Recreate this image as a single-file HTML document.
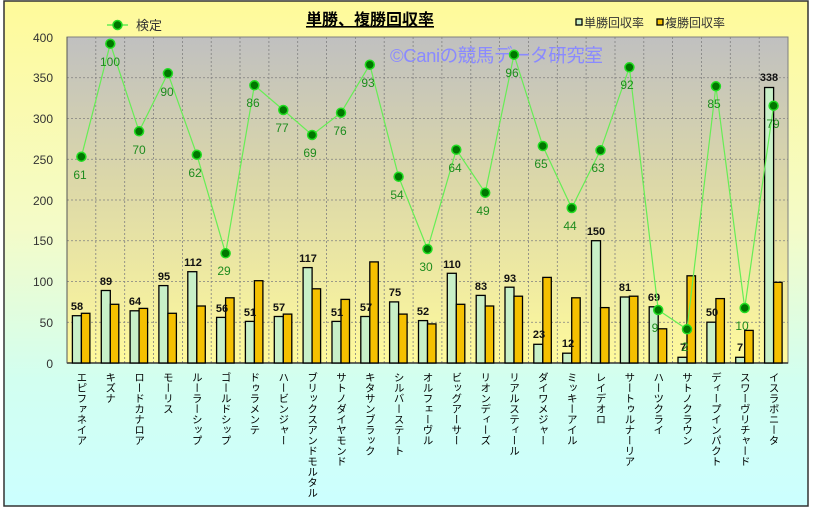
<!DOCTYPE html>
<html><head><meta charset="utf-8"><style>
body{margin:0;width:813px;height:509px;overflow:hidden;background:#fff}
svg{display:block;font-family:"Liberation Sans","Noto Sans CJK JP",sans-serif}
</style></head><body>
<svg width="813" height="509" viewBox="0 0 813 509">
<defs>
<linearGradient id="bg" x1="0" y1="0" x2="0" y2="1"><stop offset="0" stop-color="#fffa9a"/><stop offset="0.45" stop-color="#f4fbc8"/><stop offset="0.75" stop-color="#d2fff0"/><stop offset="1" stop-color="#ccffff"/></linearGradient>
<linearGradient id="pa" x1="0" y1="0" x2="0" y2="1"><stop offset="0" stop-color="#c0c0c0"/><stop offset="0.45" stop-color="#dcd8a8"/><stop offset="1" stop-color="#fffa9c"/></linearGradient>
</defs>
<rect x="4" y="1" width="804" height="505" fill="url(#bg)" stroke="#333" stroke-width="1.5"/>
<rect x="67" y="37" width="721" height="326" fill="url(#pa)" stroke="#808080" stroke-width="1"/>
<g stroke="#808080" stroke-width="0.8" stroke-dasharray="2,2">
<line x1="67" x2="788" y1="77.75" y2="77.75"/><line x1="67" x2="788" y1="118.5" y2="118.5"/><line x1="67" x2="788" y1="159.25" y2="159.25"/><line x1="67" x2="788" y1="200" y2="200"/><line x1="67" x2="788" y1="240.75" y2="240.75"/><line x1="67" x2="788" y1="281.5" y2="281.5"/><line x1="67" x2="788" y1="322.25" y2="322.25"/>
<line x1="95.8" x2="95.8" y1="37" y2="363"/><line x1="124.7" x2="124.7" y1="37" y2="363"/><line x1="153.5" x2="153.5" y1="37" y2="363"/><line x1="182.4" x2="182.4" y1="37" y2="363"/><line x1="211.2" x2="211.2" y1="37" y2="363"/><line x1="240" x2="240" y1="37" y2="363"/><line x1="268.9" x2="268.9" y1="37" y2="363"/><line x1="297.7" x2="297.7" y1="37" y2="363"/><line x1="326.6" x2="326.6" y1="37" y2="363"/><line x1="355.4" x2="355.4" y1="37" y2="363"/><line x1="384.2" x2="384.2" y1="37" y2="363"/><line x1="413.1" x2="413.1" y1="37" y2="363"/><line x1="441.9" x2="441.9" y1="37" y2="363"/><line x1="470.8" x2="470.8" y1="37" y2="363"/><line x1="499.6" x2="499.6" y1="37" y2="363"/><line x1="528.4" x2="528.4" y1="37" y2="363"/><line x1="557.3" x2="557.3" y1="37" y2="363"/><line x1="586.1" x2="586.1" y1="37" y2="363"/><line x1="615" x2="615" y1="37" y2="363"/><line x1="643.8" x2="643.8" y1="37" y2="363"/><line x1="672.6" x2="672.6" y1="37" y2="363"/><line x1="701.5" x2="701.5" y1="37" y2="363"/><line x1="730.3" x2="730.3" y1="37" y2="363"/><line x1="759.2" x2="759.2" y1="37" y2="363"/>
</g>
<line x1="67" x2="788" y1="363" y2="363" stroke="#333" stroke-width="1.5"/>
<line x1="67" x2="67" y1="37" y2="363" stroke="#555" stroke-width="1"/>
<g font-size="12" fill="#333" text-anchor="end">
<text x="53" y="42">400</text><text x="53" y="82">350</text><text x="53" y="123">300</text><text x="53" y="164">250</text><text x="53" y="205">200</text><text x="53" y="245">150</text><text x="53" y="286">100</text><text x="53" y="327">50</text><text x="53" y="368">0</text>
</g>
<text x="390" y="62" font-size="18.5" fill="#8a8aff" textLength="213">©Caniの競馬データ研究室</text>
<text x="370" y="25" font-size="16" font-weight="bold" text-anchor="middle" text-decoration="underline" fill="#000">単勝、複勝回収率</text>
<line x1="107" x2="128" y1="25" y2="25" stroke="#66ee55" stroke-width="1.5"/><circle cx="117.5" cy="25" r="4.5" fill="#007700" stroke="#22dd22" stroke-width="1.5"/>
<text x="136" y="30" font-size="13" fill="#333">検定</text>
<rect x="576" y="19" width="6" height="6" fill="#c8f0c8" stroke="#000" stroke-width="1.3"/><text x="584" y="27" font-size="12" fill="#333">単勝回収率</text>
<rect x="657" y="19" width="6" height="6" fill="#f5c000" stroke="#000" stroke-width="1.3"/><text x="665" y="27" font-size="12" fill="#333">複勝回収率</text>
<g stroke="#000" stroke-width="1.3">
<g transform="translate(81.4,0)"><rect x="-9" y="315.7" width="9" height="47.3" fill="#c8f0c8"/><rect x="0" y="313.3" width="8.5" height="49.7" fill="#f5c000"/></g>
<g transform="translate(110.3,0)"><rect x="-9" y="290.5" width="9" height="72.5" fill="#c8f0c8"/><rect x="0" y="304.3" width="8.5" height="58.7" fill="#f5c000"/></g>
<g transform="translate(139.1,0)"><rect x="-9" y="310.8" width="9" height="52.2" fill="#c8f0c8"/><rect x="0" y="308.4" width="8.5" height="54.6" fill="#f5c000"/></g>
<g transform="translate(167.9,0)"><rect x="-9" y="285.6" width="9" height="77.4" fill="#c8f0c8"/><rect x="0" y="313.3" width="8.5" height="49.7" fill="#f5c000"/></g>
<g transform="translate(196.8,0)"><rect x="-9" y="271.7" width="9" height="91.3" fill="#c8f0c8"/><rect x="0" y="306" width="8.5" height="57" fill="#f5c000"/></g>
<g transform="translate(225.6,0)"><rect x="-9" y="317.4" width="9" height="45.6" fill="#c8f0c8"/><rect x="0" y="297.8" width="8.5" height="65.2" fill="#f5c000"/></g>
<g transform="translate(254.4,0)"><rect x="-9" y="321.4" width="9" height="41.6" fill="#c8f0c8"/><rect x="0" y="280.7" width="8.5" height="82.3" fill="#f5c000"/></g>
<g transform="translate(283.3,0)"><rect x="-9" y="316.5" width="9" height="46.5" fill="#c8f0c8"/><rect x="0" y="314.1" width="8.5" height="48.9" fill="#f5c000"/></g>
<g transform="translate(312.1,0)"><rect x="-9" y="267.6" width="9" height="95.4" fill="#c8f0c8"/><rect x="0" y="288.8" width="8.5" height="74.2" fill="#f5c000"/></g>
<g transform="translate(341,0)"><rect x="-9" y="321.4" width="9" height="41.6" fill="#c8f0c8"/><rect x="0" y="299.4" width="8.5" height="63.6" fill="#f5c000"/></g>
<g transform="translate(369.8,0)"><rect x="-9" y="316.5" width="9" height="46.5" fill="#c8f0c8"/><rect x="0" y="261.9" width="8.5" height="101.1" fill="#f5c000"/></g>
<g transform="translate(398.6,0)"><rect x="-9" y="301.9" width="9" height="61.1" fill="#c8f0c8"/><rect x="0" y="314.1" width="8.5" height="48.9" fill="#f5c000"/></g>
<g transform="translate(427.5,0)"><rect x="-9" y="320.6" width="9" height="42.4" fill="#c8f0c8"/><rect x="0" y="323.9" width="8.5" height="39.1" fill="#f5c000"/></g>
<g transform="translate(456.3,0)"><rect x="-9" y="273.3" width="9" height="89.7" fill="#c8f0c8"/><rect x="0" y="304.3" width="8.5" height="58.7" fill="#f5c000"/></g>
<g transform="translate(485.2,0)"><rect x="-9" y="295.4" width="9" height="67.6" fill="#c8f0c8"/><rect x="0" y="306" width="8.5" height="57" fill="#f5c000"/></g>
<g transform="translate(514,0)"><rect x="-9" y="287.2" width="9" height="75.8" fill="#c8f0c8"/><rect x="0" y="296.2" width="8.5" height="66.8" fill="#f5c000"/></g>
<g transform="translate(542.8,0)"><rect x="-9" y="344.3" width="9" height="18.7" fill="#c8f0c8"/><rect x="0" y="277.4" width="8.5" height="85.6" fill="#f5c000"/></g>
<g transform="translate(571.7,0)"><rect x="-9" y="353.2" width="9" height="9.8" fill="#c8f0c8"/><rect x="0" y="297.8" width="8.5" height="65.2" fill="#f5c000"/></g>
<g transform="translate(600.5,0)"><rect x="-9" y="240.7" width="9" height="122.3" fill="#c8f0c8"/><rect x="0" y="307.6" width="8.5" height="55.4" fill="#f5c000"/></g>
<g transform="translate(629.4,0)"><rect x="-9" y="297" width="9" height="66" fill="#c8f0c8"/><rect x="0" y="296.2" width="8.5" height="66.8" fill="#f5c000"/></g>
<g transform="translate(658.2,0)"><rect x="-9" y="306.8" width="9" height="56.2" fill="#c8f0c8"/><rect x="0" y="328.8" width="8.5" height="34.2" fill="#f5c000"/></g>
<g transform="translate(687,0)"><rect x="-9" y="357.3" width="9" height="5.7" fill="#c8f0c8"/><rect x="0" y="275.8" width="8.5" height="87.2" fill="#f5c000"/></g>
<g transform="translate(715.9,0)"><rect x="-9" y="322.2" width="9" height="40.8" fill="#c8f0c8"/><rect x="0" y="298.6" width="8.5" height="64.4" fill="#f5c000"/></g>
<g transform="translate(744.7,0)"><rect x="-9" y="357.3" width="9" height="5.7" fill="#c8f0c8"/><rect x="0" y="330.4" width="8.5" height="32.6" fill="#f5c000"/></g>
<g transform="translate(773.6,0)"><rect x="-9" y="87.5" width="9" height="275.5" fill="#c8f0c8"/><rect x="0" y="282.3" width="8.5" height="80.7" fill="#f5c000"/></g>
</g>
<g font-size="11" font-weight="bold" fill="#111" text-anchor="middle">
<text x="77" y="310">58</text><text x="106" y="285">89</text><text x="135" y="305">64</text><text x="164" y="280">95</text><text x="193" y="266">112</text><text x="222" y="312">56</text><text x="250" y="316">51</text><text x="279" y="311">57</text><text x="308" y="262">117</text><text x="337" y="316">51</text><text x="366" y="311">57</text><text x="395" y="296">75</text><text x="423" y="315">52</text><text x="452" y="268">110</text><text x="481" y="290">83</text><text x="510" y="282">93</text><text x="539" y="338">23</text><text x="568" y="347">12</text><text x="596" y="235">150</text><text x="625" y="291">81</text><text x="654" y="301">69</text><text x="683" y="351">7</text><text x="712" y="316">50</text><text x="740" y="351">7</text><text x="769" y="81">338</text>
</g>
<polyline fill="none" stroke="#66ee55" stroke-width="1.2" points="81.4,156.7 110.3,43.7 139.1,131.3 167.9,73.3 196.8,154.7 225.6,253.3 254.4,85.3 283.3,110 312.1,135 341,112.7 369.8,64.7 398.6,176.7 427.5,249 456.3,149.7 485.2,192.7 514,54.7 542.8,146 571.7,208 600.5,150.3 629.4,67.3 658.2,310 687,329.3 715.9,86.3 744.7,308 773.6,105.7"/>
<g fill="#007700" stroke="#22dd22" stroke-width="1.5">
<circle cx="81.4" cy="156.7" r="4.5"/><circle cx="110.3" cy="43.7" r="4.5"/><circle cx="139.1" cy="131.3" r="4.5"/><circle cx="167.9" cy="73.3" r="4.5"/><circle cx="196.8" cy="154.7" r="4.5"/><circle cx="225.6" cy="253.3" r="4.5"/><circle cx="254.4" cy="85.3" r="4.5"/><circle cx="283.3" cy="110" r="4.5"/><circle cx="312.1" cy="135" r="4.5"/><circle cx="341" cy="112.7" r="4.5"/><circle cx="369.8" cy="64.7" r="4.5"/><circle cx="398.6" cy="176.7" r="4.5"/><circle cx="427.5" cy="249" r="4.5"/><circle cx="456.3" cy="149.7" r="4.5"/><circle cx="485.2" cy="192.7" r="4.5"/><circle cx="514" cy="54.7" r="4.5"/><circle cx="542.8" cy="146" r="4.5"/><circle cx="571.7" cy="208" r="4.5"/><circle cx="600.5" cy="150.3" r="4.5"/><circle cx="629.4" cy="67.3" r="4.5"/><circle cx="658.2" cy="310" r="4.5"/><circle cx="687" cy="329.3" r="4.5"/><circle cx="715.9" cy="86.3" r="4.5"/><circle cx="744.7" cy="308" r="4.5"/><circle cx="773.6" cy="105.7" r="4.5"/>
</g>
<g font-size="12" fill="#1e8c1e" text-anchor="middle">
<text x="80" y="179">61</text><text x="110" y="66">100</text><text x="139" y="154">70</text><text x="167" y="96">90</text><text x="195" y="177">62</text><text x="224" y="275">29</text><text x="253" y="107">86</text><text x="282" y="132">77</text><text x="310" y="157">69</text><text x="340" y="135">76</text><text x="368" y="87">93</text><text x="397" y="199">54</text><text x="426" y="271">30</text><text x="455" y="172">64</text><text x="483" y="215">49</text><text x="512" y="77">96</text><text x="541" y="168">65</text><text x="570" y="230">44</text><text x="598" y="172">63</text><text x="627" y="89">92</text><text x="655" y="332">9</text><text x="685" y="351">2</text><text x="714" y="108">85</text><text x="742" y="330">10</text><text x="773" y="128">79</text>
</g>
<g font-size="10.5" fill="#000" style="writing-mode:vertical-rl">
<text x="81.4" y="372">エピファネイア</text><text x="110.3" y="372">キズナ</text><text x="139.1" y="372">ロードカナロア</text><text x="167.9" y="372">モーリス</text><text x="196.8" y="372">ルーラーシップ</text><text x="225.6" y="372">ゴールドシップ</text><text x="254.4" y="372">ドゥラメンテ</text><text x="283.3" y="372">ハービンジャー</text><text x="312.1" y="372">ブリックスアンドモルタル</text><text x="341" y="372">サトノダイヤモンド</text><text x="369.8" y="372">キタサンブラック</text><text x="398.6" y="372">シルバーステート</text><text x="427.5" y="372">オルフェーヴル</text><text x="456.3" y="372">ビッグアーサー</text><text x="485.2" y="372">リオンディーズ</text><text x="514" y="372">リアルスティール</text><text x="542.8" y="372">ダイワメジャー</text><text x="571.7" y="372">ミッキーアイル</text><text x="600.5" y="372">レイデオロ</text><text x="629.4" y="372">サートゥルナーリア</text><text x="658.2" y="372">ハーツクライ</text><text x="687" y="372">サトノクラウン</text><text x="715.9" y="372">ディープインパクト</text><text x="744.7" y="372">スワーヴリチャード</text><text x="773.6" y="372">イスラボニータ</text>
</g>
</svg>
</body></html>
